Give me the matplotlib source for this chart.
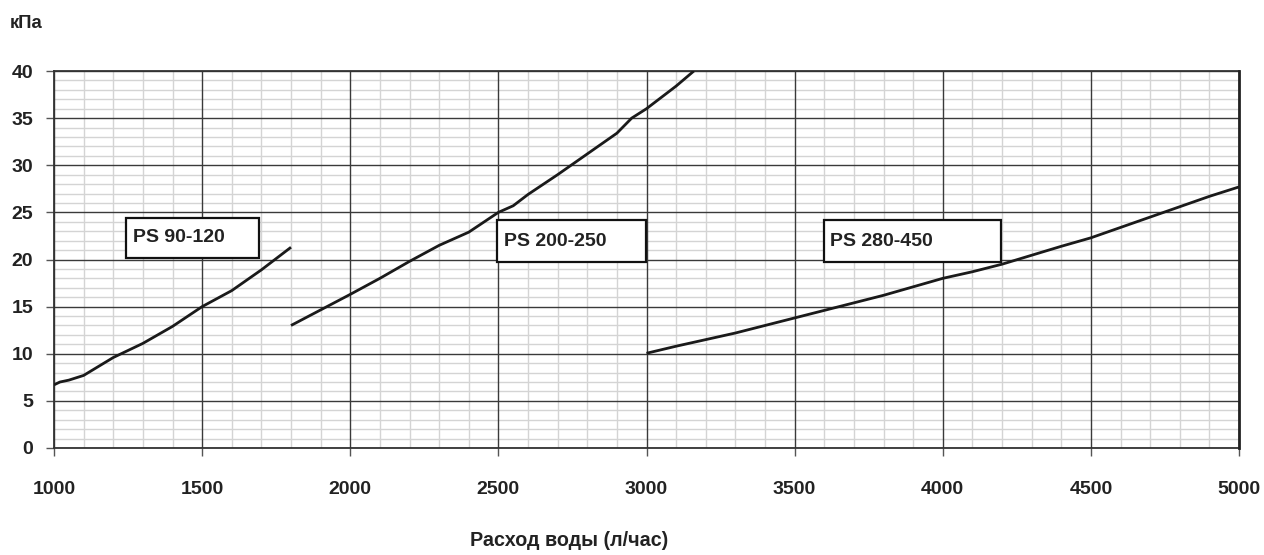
import matplotlib
matplotlib.use("Agg")
import matplotlib.pyplot as plt
from matplotlib.patches import Rectangle
from matplotlib.ticker import MultipleLocator

plt.rcParams['font.family'] = ['Liberation Sans', 'DejaVu Sans']

# Series data (x: flow l/h, y: pressure drop kPa)
x_90_120 = [1000, 1020, 1050, 1100, 1200, 1300, 1400, 1500, 1600, 1700, 1800]
y_90_120 = [6.7, 7.0, 7.2, 7.7, 9.6, 11.1, 12.9, 15.0, 16.7, 18.9, 21.3]

x_200_250 = [1800, 2000, 2100, 2200, 2300, 2400, 2500, 2550, 2600, 2700, 2800, 2900, 2950, 3000, 3100, 3160]
y_200_250 = [13.0, 16.3, 18.0, 19.8, 21.5, 22.9, 25.0, 25.7, 26.9, 29.0, 31.2, 33.4, 35.0, 36.0, 38.4, 40.0]

x_280_450 = [3000, 3100, 3200, 3300, 3400, 3500, 3600, 3700, 3800, 3900, 4000, 4100, 4200, 4300, 4400, 4500, 4600, 4700, 4800, 4900, 5000]
y_280_450 = [10.05, 10.8, 11.5, 12.2, 13.0, 13.8, 14.6, 15.4, 16.2, 17.1, 18.0, 18.7, 19.5, 20.45, 21.4, 22.3, 23.4, 24.5, 25.6, 26.7, 27.7]

series_labels = ['PS 90-120', 'PS 200-250', 'PS 280-450']
label_boxes = [(1243, 20.2, 450, 4.2), (2497, 19.7, 500, 4.5), (3598, 19.7, 598, 4.5)]

x_ticks = [1000, 1500, 2000, 2500, 3000, 3500, 4000, 4500, 5000]
y_ticks = [0, 5, 10, 15, 20, 25, 30, 35, 40]
y_unit = 'кПа'
x_title = 'Расход воды (л/час)'

fig = plt.figure(figsize=(12.64, 5.55), dpi=100)
ax = fig.add_axes([54/1264, 1-448/555, (1239-54)/1264, (448-71)/555])
ax.set_xlim(1000, 5000)
ax.set_ylim(0, 40)

ax.xaxis.set_minor_locator(MultipleLocator(100))
ax.yaxis.set_minor_locator(MultipleLocator(1))
ax.set_xticks(x_ticks)
ax.set_yticks(y_ticks)
ax.grid(which='minor', color='#d4d4d4', linewidth=1.0, zorder=0)
ax.set_axisbelow(True)
for xv in x_ticks:
    ax.axvline(xv, color='#3a3a3a', linewidth=1.0, zorder=1)
for yv in y_ticks:
    ax.axhline(yv, color='#3a3a3a', linewidth=1.0, zorder=1)

ax.tick_params(which='minor', length=0)
ax.tick_params(which='major', direction='out', length=6, width=1.0, color='#555555')
ax.tick_params(axis='x', pad=18)
ax.tick_params(axis='y', pad=9)
for lab in ax.get_xticklabels() + ax.get_yticklabels():
    lab.set_fontweight('bold')
    lab.set_fontsize(14)
    lab.set_color('#222222')

for side in ['left', 'bottom', 'top']:
    ax.spines[side].set_color('#333333')
    ax.spines[side].set_linewidth(1.3)
    ax.spines[side].set_zorder(2)
ax.spines['right'].set_color('#222222')
ax.spines['right'].set_linewidth(2.0)

for xs, ys in [(x_90_120, y_90_120), (x_200_250, y_200_250), (x_280_450, y_280_450)]:
    ax.plot(xs, ys, color='#1a1a1a', linewidth=2.0, solid_capstyle='butt', zorder=3, clip_on=True)

for (bx, by, bw, bh), text in zip(label_boxes, series_labels):
    ax.add_patch(Rectangle((bx, by), bw, bh, facecolor='white', edgecolor='#111111', linewidth=1.6, zorder=4))
    ax.text(bx + 22, by + bh / 2, text, fontsize=14, fontweight='bold', color='#222222',
            va='center', ha='left', zorder=5)

fig.text(10/1264, 1-24/555, y_unit, fontsize=13.3, fontweight='bold', color='#222222', va='center', ha='left')
fig.text(569/1264, 1-540/555, x_title, fontsize=14.2, fontweight='bold', color='#222222', va='center', ha='center')

fig.savefig('out.png', dpi=100)
